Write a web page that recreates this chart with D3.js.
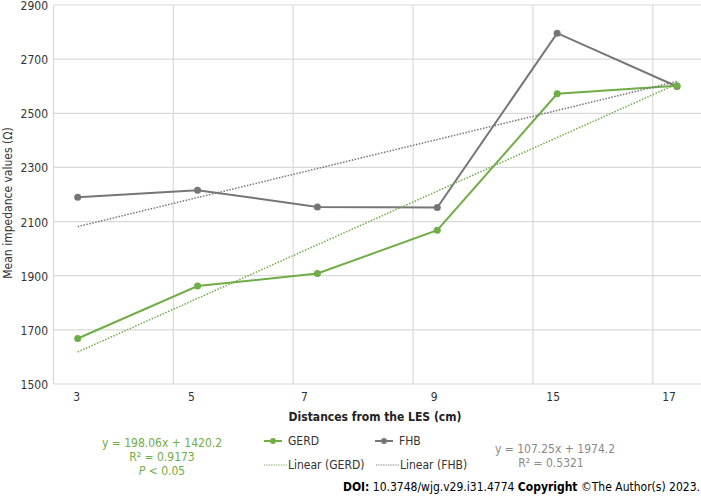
<!DOCTYPE html>
<html>
<head>
<meta charset="utf-8">
<script src="https://cdn.jsdelivr.net/npm/d3@7/dist/d3.min.js"></script>
<style>
  html, body { margin: 0; padding: 0; background: #fff; }
  svg { display: block; }
  text { font-family: "DejaVu Sans Condensed", "DejaVu Sans", sans-serif; font-stretch: condensed; }
</style>
</head>
<body>
<svg id="chart" width="701" height="496"></svg>
<script>
// ---- data ----
const categories = ["3", "5", "7", "9", "15", "17"];
const gerdValues = [1668, 1862, 1908, 2068, 2572, 2602];
const fhbValues  = [2190, 2216, 2154, 2152, 2796, 2599];
const yTicks = [1500, 1700, 1900, 2100, 2300, 2500, 2700, 2900];
// trendline equations (as printed in the figure): y = slope * x + intercept, x = 1..n
const gerdTrend = [198.06, 1420.2];
const fhbTrend  = [107.25, 1974.2];
const gerdR2 = "0.9173";
const fhbR2  = "0.5321";

// ---- styles ----
const GREEN = "#70ad47", GREY = "#767676", GRID = "#d9d9d9";
const labelShift = [-1, -6, -13, -3, -4, -8];

const svg = d3.select("#chart");
const x = d3.scalePoint().domain(categories).range([77.7, 677]);
const y = d3.scaleLinear().domain([1500, 2900]).range([384, 5]);
const gridOffset = 24.2;
const plotLeft = x(categories[0]) - gridOffset, plotRight = 701;

// horizontal gridlines
svg.append("g").selectAll("line").data(yTicks).join("line")
  .attr("x1", plotLeft).attr("x2", plotRight)
  .attr("y1", d => y(d)).attr("y2", d => y(d))
  .attr("stroke", GRID).attr("stroke-width", 1.2);
// vertical gridlines
svg.append("g").selectAll("line").data(categories).join("line")
  .attr("x1", d => x(d) - gridOffset).attr("x2", d => x(d) - gridOffset)
  .attr("y1", y(2900)).attr("y2", y(1500))
  .attr("stroke", GRID).attr("stroke-width", 1.2);

// y tick labels
svg.append("g").selectAll("text").data(yTicks).join("text")
  .attr("x", 48).attr("y", d => y(d)).attr("dy", "0.42em")
  .attr("text-anchor", "end").attr("font-size", 12).attr("fill", "#333")
  .text(d => d);
// x tick labels
svg.append("g").selectAll("text").data(categories).join("text")
  .attr("x", (d, i) => x(d) + labelShift[i]).attr("y", 397).attr("dy", "0.35em")
  .attr("text-anchor", "middle").attr("font-size", 12).attr("fill", "#333")
  .text(d => d);

// axis titles
svg.append("text").attr("transform", "translate(12,203) rotate(-90)")
  .attr("text-anchor", "middle").attr("font-size", 12).attr("fill", "#333")
  .text("Mean impedance values (Ω)");
svg.append("text").attr("x", 375).attr("y", 421)
  .attr("text-anchor", "middle").attr("font-size", 12).attr("font-weight", "bold").attr("fill", "#222")
  .text("Distances from the LES (cm)");

// series
const line = d3.line().x((d, i) => x(categories[i])).y(d => y(d));
function series(vals, color) {
  svg.append("path").datum(vals).attr("d", line)
    .attr("fill", "none").attr("stroke", color).attr("stroke-width", 2);
  svg.append("g").selectAll("circle").data(vals).join("circle")
    .attr("cx", (d, i) => x(categories[i])).attr("cy", d => y(d)).attr("r", 3.5)
    .attr("fill", color);
}
series(fhbValues, GREY);
series(gerdValues, GREEN);

// trendlines
function trend(coef, color) {
  const n = categories.length;
  const pts = [1, n].map(k => [x(categories[k - 1]), y(coef[0] * k + coef[1])]);
  svg.append("path").attr("d", d3.line()(pts))
    .attr("fill", "none").attr("stroke", color).attr("stroke-width", 1.5)
    .attr("stroke-dasharray", "1.5,1.5");
}
trend(fhbTrend, GREY);
trend(gerdTrend, GREEN);

// legend
const lg = svg.append("g").attr("font-size", 12).attr("fill", "#333");
function legendSolid(x0, yy, color, label) {
  lg.append("line").attr("x1", x0).attr("x2", x0 + 18).attr("y1", yy).attr("y2", yy)
    .attr("stroke", color).attr("stroke-width", 2);
  lg.append("circle").attr("cx", x0 + 9).attr("cy", yy).attr("r", 3).attr("fill", color);
  lg.append("text").attr("x", x0 + 24).attr("y", yy).attr("dy", "0.35em").text(label);
}
function legendDot(x0, yy, color, label) {
  lg.append("line").attr("x1", x0).attr("x2", x0 + 23).attr("y1", yy).attr("y2", yy)
    .attr("stroke", color).attr("stroke-width", 1.2).attr("stroke-dasharray", "1.2,1.2");
  lg.append("text").attr("x", x0 + 24).attr("y", yy).attr("dy", "0.35em").text(label);
}
legendSolid(264, 441, GREEN, "GERD");
legendSolid(375, 441, GREY, "FHB");
legendDot(264, 465, GREEN, "Linear (GERD)");
legendDot(376, 465, GREY, "Linear (FHB)");

// equations
const eqG = svg.append("g").attr("font-size", 12).attr("fill", GREEN).attr("text-anchor", "middle");
eqG.append("text").attr("x", 162).attr("y", 443).attr("dy", "0.35em")
  .text(`y = ${gerdTrend[0]}x + ${gerdTrend[1]}`);
eqG.append("text").attr("x", 162).attr("y", 457).attr("dy", "0.35em").text(`R² = ${gerdR2}`);
const pt = eqG.append("text").attr("x", 162).attr("y", 471).attr("dy", "0.35em");
pt.append("tspan").attr("font-style", "italic").text("P");
pt.append("tspan").text(" < 0.05");

const eqF = svg.append("g").attr("font-size", 12).attr("fill", "#8a8a8a").attr("text-anchor", "middle");
eqF.append("text").attr("x", 555).attr("y", 449).attr("dy", "0.35em")
  .text(`y = ${fhbTrend[0]}x + ${fhbTrend[1]}`);
eqF.append("text").attr("x", 551).attr("y", 463).attr("dy", "0.35em").text(`R² = ${fhbR2}`);

// DOI line
const doi = svg.append("text").attr("x", 700).attr("y", 487).attr("dy", "0.35em")
  .attr("text-anchor", "end").attr("font-size", 12).attr("fill", "#000");
doi.append("tspan").attr("font-weight", "bold").text("DOI:");
doi.append("tspan").text(" 10.3748/wjg.v29.i31.4774 ");
doi.append("tspan").attr("font-weight", "bold").text("Copyright");
doi.append("tspan").text(" ©The Author(s) 2023.");
</script>
</body>
</html>
